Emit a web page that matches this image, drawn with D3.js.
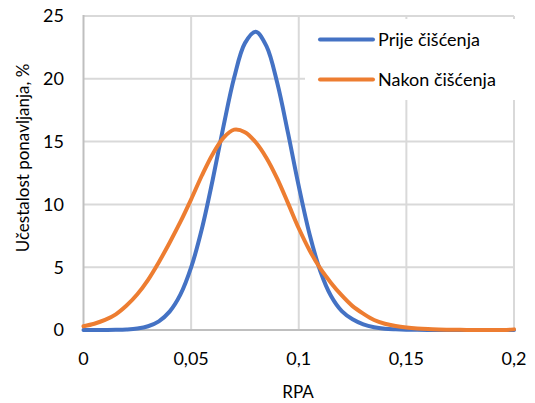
<!DOCTYPE html>
<html><head><meta charset="utf-8">
<script src="https://cdn.jsdelivr.net/npm/d3@7"></script>
<style>body{margin:0;background:#fff}svg{display:block}</style>
</head><body>
<svg id="c" width="535" height="403"></svg>
<script>
const xValues = [0,0.005,0.01,0.015,0.02,0.025,0.03,0.035,0.04,0.045,0.05,0.055,0.06,0.065,0.07,0.075,0.08,0.085,0.09,0.095,0.1,0.105,0.11,0.115,0.12,0.125,0.13,0.135,0.14,0.145,0.15,0.155,0.16,0.165,0.17,0.175,0.18,0.185,0.19,0.195,0.2];
const prijeValues = [0,0,0.005,0.015,0.045,0.12,0.3,0.69,1.46,2.81,4.98,8.06,11.94,16.19,20.1,22.84,23.75,22.6,19.68,15.69,11.45,7.64,4.7,2.7,1.5,0.85,0.45,0.22,0.1,0.05,0.02,0.01,0,0,0,0,0,0,0,0,0];
const nakonValues = [0.3,0.5,0.8,1.25,1.95,2.85,4.0,5.4,6.95,8.6,10.4,12.3,14.0,15.3,15.95,15.75,14.95,13.7,12.05,10.1,8.1,6.35,4.9,3.75,2.75,1.9,1.3,0.8,0.5,0.32,0.2,0.12,0.07,0.04,0.02,0.01,0,0,0,0,0.05];
const seriesNames = ["Prije čišćenja","Nakon čišćenja"];
const xTicks = [0,0.05,0.1,0.15,0.2];
const xTickLabels = ["0","0,05","0,1","0,15","0,2"];
const yTicks = [0,5,10,15,20,25];
const xTitle = "RPA";
const yTitle = "Učestalost ponavljanja, %";

const colors = ["#4472C4","#ED7D31"];
const font = "Lato, 'Open Sans', sans-serif";
const svg = d3.select("#c");
const x = d3.scaleLinear().domain([0,0.2]).range([83.5,514]);
const y = d3.scaleLinear().domain([0,25]).range([330,16]);

// gridlines
const g = svg.append("g");
g.selectAll("line.v").data(xTicks.slice(1)).join("line")
  .attr("x1",d=>x(d)).attr("x2",d=>x(d)).attr("y1",y(25)).attr("y2",y(0))
  .attr("stroke","#d9d9d9").attr("stroke-width",2);
g.selectAll("line.h").data(yTicks.slice(1)).join("line")
  .attr("x1",x(0)).attr("x2",x(0.2)).attr("y1",d=>y(d)).attr("y2",d=>y(d))
  .attr("stroke","#d9d9d9").attr("stroke-width",2);
// axis lines
svg.append("line").attr("x1",x(0)).attr("x2",x(0)).attr("y1",y(25)-1).attr("y2",y(0))
  .attr("stroke","#bfbfbf").attr("stroke-width",2);
svg.append("line").attr("x1",x(0)-1).attr("x2",x(0.2)+1).attr("y1",y(0)).attr("y2",y(0))
  .attr("stroke","#bfbfbf").attr("stroke-width",2);

// tick labels
svg.selectAll("text.xt").data(xTicks).join("text")
  .attr("x",d=>x(d)).attr("y",365).attr("text-anchor","middle")
  .attr("font-family",font).attr("font-size",18).attr("fill","#000")
  .text((d,i)=>xTickLabels[i]);
svg.selectAll("text.yt").data(yTicks).join("text")
  .attr("x",64).attr("y",d=>y(d)).attr("dy","0.35em").attr("text-anchor","end")
  .attr("font-family",font).attr("font-size",18).attr("fill","#000")
  .text(d=>d);

// titles
svg.append("text").attr("x",298).attr("y",398).attr("text-anchor","middle")
  .attr("font-family",font).attr("font-size",17).attr("fill","#000").text(xTitle);
svg.append("text").attr("transform","translate(29,158) rotate(-90)").attr("text-anchor","middle")
  .attr("font-family",font).attr("font-size",17).attr("fill","#000").text(yTitle);

// lines
const line = d3.line().x((d,i)=>x(xValues[i])).y(d=>y(Math.max(0,d))).curve(d3.curveCatmullRom.alpha(0.5));
[prijeValues,nakonValues].forEach((vals,k)=>{
  svg.append("path").attr("d",line(vals)).attr("fill","none")
    .attr("stroke",colors[k]).attr("stroke-width",4).attr("stroke-linejoin","round").attr("stroke-linecap","round");
});

// legend
svg.append("rect").attr("x",305).attr("y",19).attr("width",215).attr("height",81).attr("fill","#fff");
seriesNames.forEach((n,k)=>{
  const ly = 39.5 + k*40;
  svg.append("line").attr("x1",320).attr("x2",373).attr("y1",ly).attr("y2",ly)
    .attr("stroke",colors[k]).attr("stroke-width",4).attr("stroke-linecap","round");
  svg.append("text").attr("x",378).attr("y",ly).attr("dy","0.35em")
    .attr("font-family",font).attr("font-size",18).attr("fill","#000").text(n);
});
</script>
</body></html>
